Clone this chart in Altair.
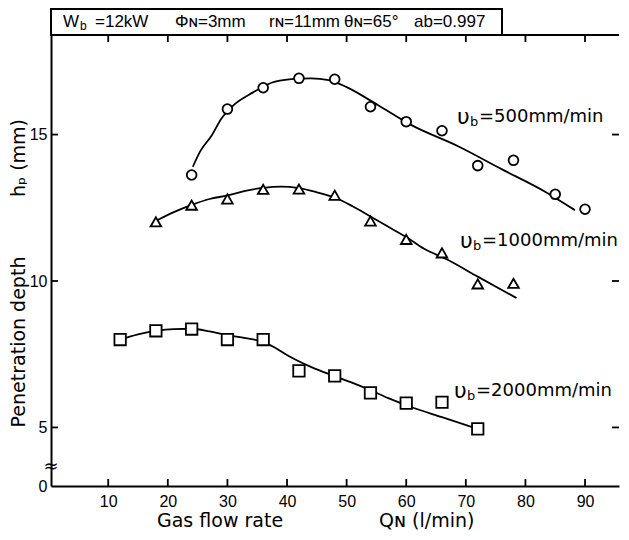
import altair as alt
import pandas as pd

# ---------------- data ----------------
series = ["500", "1000", "2000"]

q_500 = [24, 30, 36, 42, 48, 54, 60, 66, 72, 78, 85, 90]
h_500 = [13.62, 15.87, 16.60, 16.92, 16.89, 15.95, 15.44, 15.13, 13.94, 14.12, 12.96, 12.45]

q_1000 = [18, 24, 30, 36, 42, 48, 54, 60, 66, 72, 78]
h_1000 = [12.02, 12.59, 12.80, 13.13, 13.14, 12.93, 12.05, 11.42, 10.96, 9.90, 9.92]

q_2000 = [12, 18, 24, 30, 36, 42, 48, 54, 60, 66, 72]
h_2000 = [8.00, 8.30, 8.36, 8.00, 8.00, 6.93, 6.76, 6.18, 5.83, 5.86, 4.95]

# fitted curves as drawn in the figure
cq_500 = [24.2, 25.5, 27.3, 29, 31, 34.3, 37.4, 40.7, 44, 47, 50, 55.3, 60.8, 68.7, 76, 83.3, 88.3]
ch_500 = [13.9, 14.45, 14.95, 15.55, 16.0, 16.44, 16.77, 16.89, 16.92, 16.86, 16.62, 16.0, 15.33, 14.6, 13.82, 13.05, 12.42]
cq_1000 = [18, 21, 24, 27, 30, 33, 36, 39, 42, 45, 48, 51, 54, 57, 60, 63, 66.7, 72, 78.5]
ch_1000 = [12.05, 12.35, 12.6, 12.8, 12.92, 13.08, 13.18, 13.22, 13.17, 13.03, 12.85, 12.55, 12.2, 11.85, 11.5, 11.1, 10.75, 10.15, 9.42]
cq_2000 = [12, 15, 18, 21, 24, 27, 30, 33, 36, 38, 40.2, 44, 48, 51, 54, 57, 60.9, 66, 71.2]
ch_2000 = [8.0, 8.18, 8.3, 8.36, 8.37, 8.28, 8.15, 8.05, 7.92, 7.72, 7.45, 7.07, 6.75, 6.52, 6.27, 6.0, 5.69, 5.35, 5.0]

x_ticks = [10, 20, 30, 40, 50, 60, 70, 80, 90]
y_ticks = [5, 10, 15]
y_labels = [3, 5, 10, 15]   # bottom of the broken axis is labelled "0"

# ---------------- tables ----------------
pts = pd.DataFrame({
    "q": q_500 + q_1000 + q_2000,
    "h": h_500 + h_1000 + h_2000,
    "series": ["500"] * len(q_500) + ["1000"] * len(q_1000) + ["2000"] * len(q_2000),
})
curves = pd.DataFrame({
    "q": cq_500 + cq_1000 + cq_2000,
    "h": ch_500 + ch_1000 + ch_2000,
    "series": ["500"] * len(cq_500) + ["1000"] * len(cq_1000) + ["2000"] * len(cq_2000),
})
xt = pd.DataFrame({"q": x_ticks})
yt = pd.DataFrame({"h": y_ticks})

W, H = 568, 451
xscale = alt.Scale(domain=[0.4, 95.7], nice=False, zero=False)
yscale = alt.Scale(domain=[3, 18.4], nice=False, zero=False)

LF = "Liberation Sans"
DF = "DejaVu Sans"

x_axis = alt.Axis(values=x_ticks, ticks=False, tickSize=0, labelPadding=7, grid=False,
                  domainColor="black", domainWidth=2, labelFont=LF, labelFontSize=16,
                  labelColor="black", labelFlush=False, labelOverlap=False, title=None)
y_axis = alt.Axis(values=y_labels, ticks=False, tickSize=0, labelPadding=4, grid=False,
                  domainColor="black", domainWidth=2, labelFont=LF, labelFontSize=16,
                  labelColor="black", labelOverlap=False, title=None,
                  labelExpr="datum.value < 4 ? '0' : datum.label")

X = alt.X("q:Q", scale=xscale, axis=x_axis)
Y = alt.Y("h:Q", scale=yscale, axis=y_axis)

lines = alt.Chart(curves).mark_line(interpolate="monotone", color="black", strokeWidth=1.8).encode(
    x=X, y=Y, detail="series:N",
)

points = alt.Chart(pts).mark_point(filled=True, fill="white", stroke="black",
                                   strokeWidth=1.8, opacity=1).encode(
    x=X, y=Y,
    shape=alt.Shape("series:N", scale=alt.Scale(domain=series,
                    range=["circle", "triangle-up", "square"]), legend=None),
    size=alt.Size("series:N", scale=alt.Scale(domain=series, range=[95, 130, 90]), legend=None),
)

top_ticks = alt.Chart(xt).mark_rule(color="black", strokeWidth=1.8).encode(
    x=X, y=alt.value(0), y2=alt.value(7))
bot_ticks = alt.Chart(xt).mark_rule(color="black", strokeWidth=1.8).encode(
    x=X, y=alt.value(H - 7), y2=alt.value(H))
left_ticks = alt.Chart(yt).mark_rule(color="black", strokeWidth=1.8).encode(
    y=Y, x=alt.value(0), x2=alt.value(7))
right_ticks = alt.Chart(yt).mark_rule(color="black", strokeWidth=1.8).encode(
    y=Y, x=alt.value(W - 7), x2=alt.value(W))

one = pd.DataFrame({"d": [0]})
top_line = alt.Chart(one).mark_rule(color="black", strokeWidth=2).encode(
    x=alt.value(0), x2=alt.value(W), y=alt.value(0))
box = alt.Chart(one).mark_rect(fillOpacity=0, stroke="black", strokeWidth=2).encode(
    x=alt.value(0), x2=alt.value(451), y=alt.value(-26), y2=alt.value(0))


def txt(s, x, y, size=18, font=DF, angle=0, align="left"):
    return alt.Chart(pd.DataFrame({"t": [s]})).mark_text(
        text=s, font=font, fontSize=size, angle=angle, align=align,
        baseline="middle", color="black").encode(x=alt.value(x), y=alt.value(y))


texts = [
    # header box
    txt("W", 12, -13, 17, LF),
    txt("b", 29, -9, 12, LF),
    txt("=12kW", 44, -13, 17, LF),
    txt("Φɴ=3mm", 124, -13, 17, LF),
    txt("rɴ=11mm", 218, -13, 17, LF),
    txt("θɴ=65°", 293, -13, 17, LF),
    txt("ab=0.997", 363, -13, 17, LF),
    # series labels
    txt("υ", 406, 82, 22),
    txt("b", 419, 87, 13),
    txt("=500mm/min", 428, 82, 18),
    txt("υ", 409, 206, 22),
    txt("b", 422, 211, 13),
    txt("=1000mm/min", 431, 206, 18),
    txt("υ", 403, 356, 22),
    txt("b", 416, 361, 13),
    txt("=2000mm/min", 425, 356, 18),
    # axis titles
    txt("Penetration depth", -32, 307, 19, DF, 270, "center"),
    txt("hₚ (mm)", -32, 123, 19, DF, 270, "center"),
    txt("Gas flow rate", 106, 486, 19),
    txt("Qɴ (l/min)", 328, 486, 19),
    # axis break
    txt("≈", 0, 432, 18, DF, 0, "center"),
]

chart = alt.layer(
    lines, points, top_ticks, bot_ticks, left_ticks, right_ticks, top_line, box, *texts
).properties(
    width=W, height=H, padding={"left": 2, "top": 0, "right": 0, "bottom": 0}
).configure_view(strokeWidth=0)

chart.save("out.html", embed_options={"renderer": "svg", "actions": False})
